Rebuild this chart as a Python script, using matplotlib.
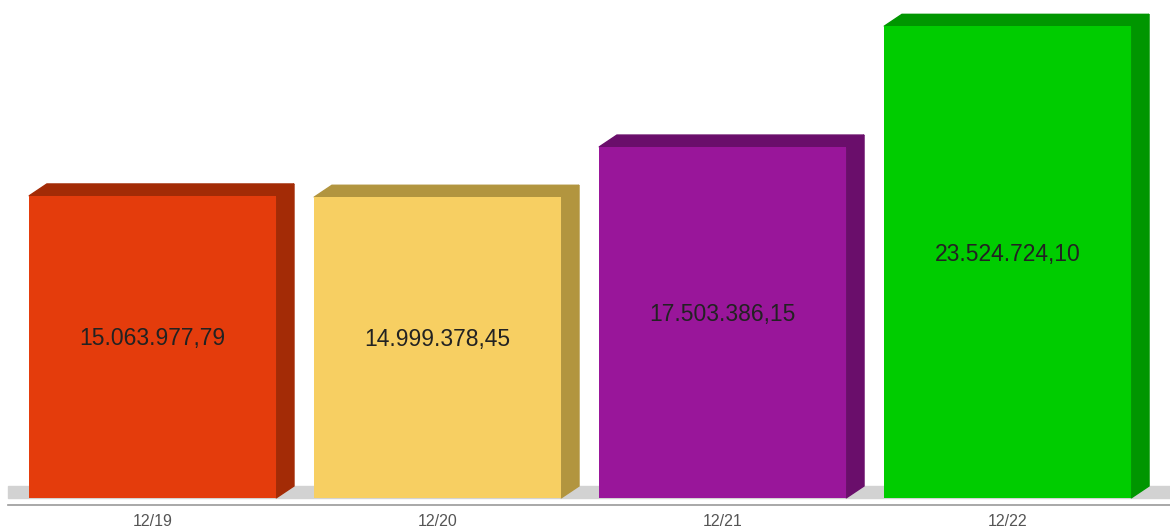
import matplotlib.pyplot as plt
from matplotlib.patches import Polygon, Rectangle

plt.rcParams['font.family'] = ['Liberation Sans', 'DejaVu Sans']

# data
years = ['12/19', '12/20', '12/21', '12/22']
values = [15063977.79, 14999378.45, 17503386.15, 23524724.10]
labels = ['15.063.977,79', '14.999.378,45', '17.503.386,15', '23.524.724,10']
front_colors = ['#E43C0C', '#F7CF62', '#99169A', '#00CC00']
side_colors = ['#A32B06', '#B2953F', '#6A0E6B', '#009600']

vals = [v / 1e6 for v in values]

fig = plt.figure(figsize=(11.7, 5.31), dpi=100)
ax = fig.add_axes([0, 0, 1, 1])
ax.set_xlim(-0.535, 3.570)
ax.set_ylim(-1.646, 24.84)
ax.axis('off')

width = 0.867
dx = 0.063   # 3d depth, x
dy = 0.6     # 3d depth, y

# floor
ax.add_patch(Rectangle((-0.507, 0), 4.2, 0.62, color='#D2D2D2', zorder=0))
ax.plot([-0.507, 3.57], [-0.35, -0.35], color='#9A9A9A', lw=1.2, zorder=0)

x = list(range(len(years)))
ax.bar(x, vals, width=width, color=front_colors, zorder=3)

for i, v in enumerate(vals):
    l = i - width / 2
    r = i + width / 2
    top = Polygon([(l, v), (l + dx, v + dy), (r + dx, v + dy), (r, v)],
                  closed=True, color=side_colors[i], zorder=2)
    side = Polygon([(r, 0), (r + dx, dy), (r + dx, v + dy), (r, v)],
                   closed=True, color=side_colors[i], zorder=2)
    ax.add_patch(top)
    ax.add_patch(side)
    ax.text(i, v / 2 + 0.4, labels[i], ha='center', va='center',
            fontsize=16.5, color='#222222', zorder=4)
    ax.text(i, -1.15, years[i], ha='center', va='center',
            fontsize=11.5, color='#555555')

fig.savefig('out.png', dpi=100)
